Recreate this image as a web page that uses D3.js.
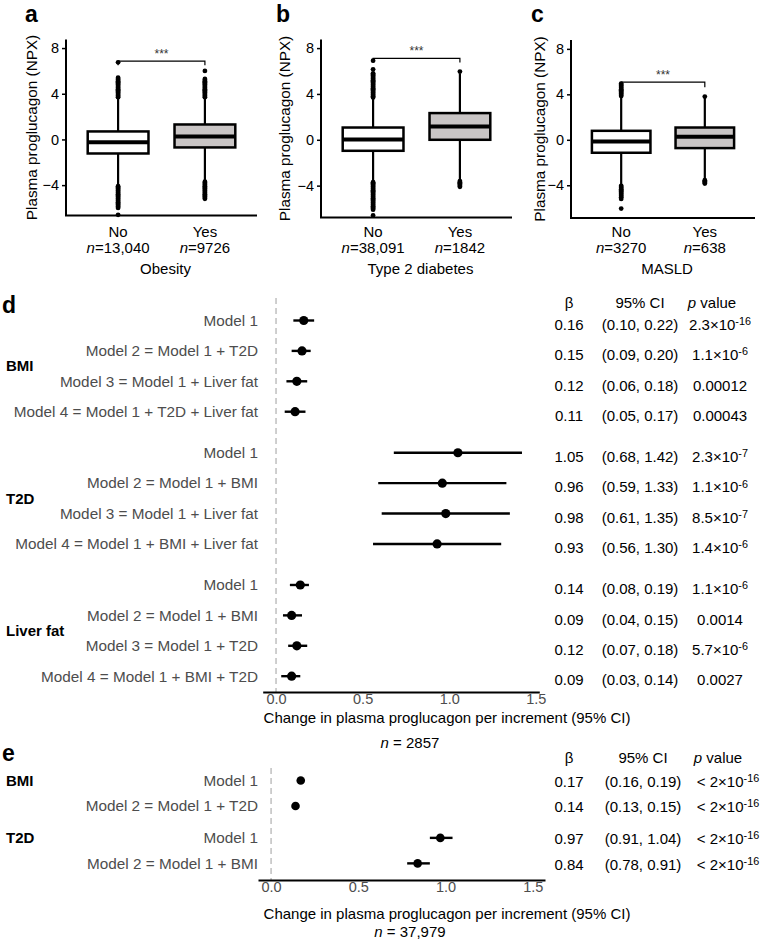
<!DOCTYPE html>
<html><head><meta charset="utf-8">
<script src="https://cdn.jsdelivr.net/npm/d3@7"></script>
<style>body{margin:0;background:#fff} svg{display:block} text{font-family:"Liberation Sans",Arial,sans-serif}</style>
</head><body><svg id="c" width="762" height="940"></svg>
<script>
// ---------------- DATA ----------------
const groups = ["No", "Yes"];
const boxPanelLabels = ["a", "b", "c"];
const boxTitles = ["Obesity", "Type 2 diabetes", "MASLD"];
const boxCounts = [["13,040", "9726"], ["38,091", "1842"], ["3270", "638"]];
const boxYTicks = [-4, 0, 4, 8];
// [q1, median, q3, lower whisker, upper whisker]
const obesityStats = [[-1.23, -0.24, 0.70, -4.0, 3.65], [-0.70, 0.26, 1.31, -3.6, 3.6]];
const t2dStats = [[-0.96, 0.03, 1.07, -3.66, 3.66], [0.0, 1.16, 2.33, -3.5, 5.8]];
const masldStats = [[-1.14, -0.15, 0.79, -3.96, 3.8], [-0.73, 0.26, 1.08, -3.5, 3.75]];
const obesityOutliers = [
  [3.7,3.8,3.9,4.0,4.1,4.2,4.3,4.4,4.5,4.6,4.7,4.8,4.9,5.0,5.1,5.2,5.3,5.4,6.75,
   -4.1,-4.2,-4.3,-4.4,-4.5,-4.6,-4.7,-4.8,-4.9,-5.0,-5.1,-5.2,-5.3,-5.4,-5.5,-5.6,-5.7,-5.8,-5.9,-6.0,-6.6],
  [3.7,3.8,3.9,4.0,4.1,4.2,4.3,4.4,4.5,4.6,4.7,4.8,4.9,5.0,5.1,5.2,5.3,6.0,
   -3.7,-3.8,-3.9,-4.0,-4.1,-4.2,-4.3,-4.4,-4.5,-4.6,-4.7,-4.8,-4.9,-5.0,-5.1,-5.2]
];
const t2dOutliers = [
  [3.7,3.8,3.9,4.0,4.1,4.2,4.3,4.4,4.5,4.6,4.7,4.8,4.9,5.0,5.1,5.2,5.3,5.4,5.5,5.6,5.7,5.8,6.15,6.9,
   -3.7,-3.8,-3.9,-4.0,-4.1,-4.2,-4.3,-4.4,-4.5,-4.6,-4.7,-4.8,-4.9,-5.0,-5.1,-5.2,-5.3,-5.4,-5.5,-5.6,-5.7,-5.8,-5.9,-6.0,-6.1,-6.6],
  [5.95, -3.6,-3.7,-3.8,-3.9,-4.0,-4.1]
];
const masldOutliers = [
  [3.85,3.95,4.05,4.15,4.25,4.35,4.45,4.55,4.65,4.75,4.85,4.95,
   -4.05,-4.15,-4.25,-4.35,-4.45,-4.55,-4.65,-4.75,-4.85,-4.95,-5.05,-5.2,-6.05],
  [3.8, -3.55,-3.65,-3.75,-3.85]
];
// significance bracket: [height, tip length]
const sigBrackets = [[6.85, 0.35], [7.1, 0.35], [5.07, 0.45]];
const sigLabel = "***";

const forestTicks = [0, 0.5, 1.0, 1.5];
const tableHeaders = ["β", "95% CI", "p value"];

const dGroups = ["BMI", "T2D", "Liver fat"];
const dModels = [
  ["Model 1", "Model 2 = Model 1 + T2D", "Model 3 = Model 1 + Liver fat", "Model 4 = Model 1 + T2D + Liver fat"],
  ["Model 1", "Model 2 = Model 1 + BMI", "Model 3 = Model 1 + Liver fat", "Model 4 = Model 1 + BMI + Liver fat"],
  ["Model 1", "Model 2 = Model 1 + BMI", "Model 3 = Model 1 + T2D", "Model 4 = Model 1 + BMI + T2D"]
];
const dBeta = [[0.16, 0.15, 0.12, 0.11], [1.05, 0.96, 0.98, 0.93], [0.14, 0.09, 0.12, 0.09]];
const dLow  = [[0.10, 0.09, 0.06, 0.05], [0.68, 0.59, 0.61, 0.56], [0.08, 0.04, 0.07, 0.03]];
const dHigh = [[0.22, 0.20, 0.18, 0.17], [1.42, 1.33, 1.35, 1.30], [0.19, 0.15, 0.18, 0.14]];
const dP = [["2.3e-16", "1.1e-6", "0.00012", "0.00043"], ["2.3e-7", "1.1e-6", "8.5e-7", "1.4e-6"], ["1.1e-6", "0.0014", "5.7e-6", "0.0027"]];
const dN = "2857";

const eGroups = ["BMI", "T2D"];
const eModels = [["Model 1", "Model 2 = Model 1 + T2D"], ["Model 1", "Model 2 = Model 1 + BMI"]];
const eBeta = [[0.17, 0.14], [0.97, 0.84]];
const eLow  = [[0.16, 0.13], [0.91, 0.78]];
const eHigh = [[0.19, 0.15], [1.04, 0.91]];
const eP = [["< 2e-16", "< 2e-16"], ["< 2e-16", "< 2e-16"]];
const eN = "37,979";

const xTitle = "Change in plasma proglucagon per increment (95% CI)";
const yTitle = "Plasma proglucagon (NPX)";

// ---------------- DRAWING ----------------
const svg = d3.select("#c");
const FONT = '"Liberation Sans", Arial, sans-serif';
const GREY = "#4d4d4d";

// ----- box plots -----
const boxStats = [obesityStats, t2dStats, masldStats];
const boxOut = [obesityOutliers, t2dOutliers, masldOutliers];
const boxLayout = [
  {x0: 66, x1: 257, y0: 215.5, y1: 39.5, dom: [-6.66, 8.75], lx: 25, tx: 32},
  {x0: 321, x1: 512, y0: 217.5, y1: 39.5, dom: [-6.78, 8.75], lx: 276, tx: 285},
  {x0: 571, x1: 755, y0: 218, y1: 40, dom: [-6.88, 8.78], lx: 531, tx: 540}
];

boxStats.forEach((stats, p) => {
  const L = boxLayout[p];
  const g = svg.append("g");
  const x = d3.scalePoint().domain(groups).range([L.x0, L.x1]).padding(0.6);
  const y = d3.scaleLinear().domain(L.dom).range([L.y0, L.y1]);
  const bw = x.step() * 0.7;

  g.append("text").attr("x", L.lx).attr("y", 22).attr("font-size", 23).attr("font-weight", "bold").text(boxPanelLabels[p]);

  const ya = g.append("g").attr("transform", `translate(${L.x0},0)`)
    .call(d3.axisLeft(y).tickValues(boxYTicks).tickSize(4).tickPadding(3).tickFormat(d => d < 0 ? "−" + Math.abs(d) : d));
  ya.select(".domain").attr("stroke-width", 2).attr("d", `M0,${L.y0}V${L.y1}`);
  ya.selectAll("line").attr("stroke-width", 1.5);
  ya.selectAll("text").attr("font-size", 14.5).attr("fill", "#000").attr("font-family", FONT);

  g.append("line").attr("x1", L.x0 - 1).attr("x2", L.x1).attr("y1", L.y0).attr("y2", L.y0).attr("stroke", "#000").attr("stroke-width", 2);

  g.append("text").attr("transform", `translate(${L.tx},${(L.y0 + L.y1) / 2}) rotate(-90)`)
    .attr("text-anchor", "middle").attr("dy", "0.35em").attr("font-size", 15.3).text(yTitle);

  stats.forEach((s, i) => {
    const cx = x(groups[i]);
    const [q1, med, q3, lo, hi] = s;
    g.append("line").attr("x1", cx).attr("x2", cx).attr("y1", y(q3)).attr("y2", y(hi)).attr("stroke", "#000").attr("stroke-width", 2.2);
    g.append("line").attr("x1", cx).attr("x2", cx).attr("y1", y(q1)).attr("y2", y(lo)).attr("stroke", "#000").attr("stroke-width", 2.2);
    g.append("rect").attr("x", cx - bw / 2).attr("width", bw).attr("y", y(q3)).attr("height", y(q1) - y(q3))
      .attr("fill", i === 0 ? "#ffffff" : "#c9c5c5").attr("stroke", "#000").attr("stroke-width", 2.5);
    g.append("line").attr("x1", cx - bw / 2).attr("x2", cx + bw / 2).attr("y1", y(med)).attr("y2", y(med)).attr("stroke", "#000").attr("stroke-width", 4);
    g.selectAll(null).data(boxOut[p][i]).join("circle").attr("cx", cx).attr("cy", d => y(d)).attr("r", 2.4).attr("fill", "#000");

    g.append("text").attr("x", cx).attr("y", 232).attr("dy", "0.35em").attr("text-anchor", "middle").attr("font-size", 15).text(groups[i]);
    const t = g.append("text").attr("x", cx).attr("y", 248).attr("dy", "0.35em").attr("text-anchor", "middle").attr("font-size", 15);
    t.append("tspan").attr("font-style", "italic").text("n");
    t.append("tspan").text("=" + boxCounts[p][i]);
  });
  g.append("text").attr("x", (L.x0 + L.x1) / 2 + 4).attr("y", 269).attr("dy", "0.35em").attr("text-anchor", "middle").attr("font-size", 15).text(boxTitles[p]);

  // significance bracket
  const [bh, tip] = sigBrackets[p];
  const xa = x(groups[0]), xb = x(groups[1]);
  g.append("path").attr("d", `M${xa},${y(bh - tip)}V${y(bh)}H${xb}V${y(bh - tip)}`)
    .attr("fill", "none").attr("stroke", "#000").attr("stroke-width", 1.2);
  g.append("text").attr("x", (xa + xb) / 2).attr("y", y(bh) - 3).attr("text-anchor", "middle").attr("font-size", 12).attr("fill", "#333").text(sigLabel);
});

// ----- forest helpers -----
function pText(sel, str) {
  let prefix = "";
  if (str.startsWith("< ")) { prefix = "< "; str = str.slice(2); }
  if (str.includes("e")) {
    const [m, e] = str.split("e");
    sel.append("tspan").text(prefix + m + "×10");
    sel.append("tspan").attr("dy", "-0.45em").attr("font-size", "0.72em").text(e);
  } else {
    sel.text(prefix + str);
  }
}
const f2 = d3.format(".2f");

function forest(cfg) {
  const g = svg.append("g");
  const x = d3.scaleLinear().domain(cfg.xdom).range(cfg.xrange);
  // row slot position (slot index includes gap between groups)
  const rows = [];
  cfg.models.forEach((ms, gi) => ms.forEach((m, mi) => rows.push({gi, mi, slot: gi * (ms.length + cfg.gap) + mi})));
  const maxSlot = d3.max(rows, r => r.slot);
  const y = d3.scaleLinear().domain([0, maxSlot]).range([cfg.yFirst, cfg.yFirst + maxSlot * cfg.step]);

  // zero line
  g.append("line").attr("x1", x(0)).attr("x2", x(0)).attr("y1", cfg.dashTop).attr("y2", cfg.axisY)
    .attr("stroke", "#c4c4c4").attr("stroke-width", 1.6).attr("stroke-dasharray", "6,4");

  // axis
  const ax = g.append("g").attr("transform", `translate(0,${cfg.axisY})`)
    .call(d3.axisBottom(x).tickValues(forestTicks).tickSize(0).tickPadding(cfg.tickPad).tickFormat(d3.format(".1f")));
  ax.select(".domain").attr("stroke-width", 2.2);
  ax.selectAll("text").attr("font-size", 14.5).attr("fill", GREY).attr("font-family", FONT);

  g.append("text").attr("x", cfg.titleX).attr("y", cfg.titleY).attr("dy", "0.35em").attr("text-anchor", "middle").attr("font-size", 15).text(xTitle);
  const nt = g.append("text").attr("x", cfg.nX).attr("y", cfg.nY).attr("dy", "0.35em").attr("text-anchor", "middle").attr("font-size", 15);
  nt.append("tspan").attr("font-style", "italic").text("n");
  nt.append("tspan").text(" = " + cfg.n);

  // panel label
  g.append("text").attr("x", 2).attr("y", cfg.labelY).attr("font-size", 23).attr("font-weight", "bold").text(cfg.label);

  // group labels
  cfg.groups.forEach((gn, gi) => {
    const gr = rows.filter(r => r.gi === gi);
    const yy = cfg.groupAtFirst ? y(gr[0].slot) : (y(gr[0].slot) + y(gr[gr.length - 1].slot)) / 2;
    g.append("text").attr("x", 6).attr("y", yy).attr("dy", "0.35em").attr("font-size", 15).attr("font-weight", "bold").text(gn);
  });

  // headers
  const hY = cfg.headerY;
  g.append("text").attr("x", cfg.colX[0]).attr("y", hY).attr("dy", "0.35em").attr("text-anchor", "middle").attr("font-size", 15).text(tableHeaders[0]);
  g.append("text").attr("x", cfg.colX[1]).attr("y", hY).attr("dy", "0.35em").attr("text-anchor", "middle").attr("font-size", 15).text(tableHeaders[1]);
  const ph = g.append("text").attr("x", cfg.pHeadX).attr("y", hY).attr("dy", "0.35em").attr("text-anchor", "middle").attr("font-size", 15);
  ph.append("tspan").attr("font-style", "italic").text("p");
  ph.append("tspan").text(" value");

  rows.forEach(r => {
    const yy = y(r.slot);
    const b = cfg.beta[r.gi][r.mi], lo = cfg.low[r.gi][r.mi], hi = cfg.high[r.gi][r.mi];
    g.append("text").attr("x", cfg.labelX).attr("y", yy).attr("dy", "0.35em").attr("text-anchor", "end")
      .attr("font-size", 15.3).attr("fill", GREY).text(cfg.models[r.gi][r.mi]);
    g.append("line").attr("x1", x(lo)).attr("x2", x(hi)).attr("y1", yy).attr("y2", yy).attr("stroke", "#000").attr("stroke-width", 2.4);
    g.append("circle").attr("cx", x(b)).attr("cy", yy).attr("r", cfg.r).attr("fill", "#000");
    const ty = yy + cfg.tableOff;
    g.append("text").attr("x", cfg.colX[0]).attr("y", ty).attr("dy", "0.35em").attr("text-anchor", "middle").attr("font-size", 15).text(f2(b));
    g.append("text").attr("x", cfg.colX[1]).attr("y", ty).attr("dy", "0.35em").attr("text-anchor", "middle").attr("font-size", 15).text(`(${f2(lo)}, ${f2(hi)})`);
    const pt = g.append("text").attr("x", cfg.colX[2]).attr("y", ty).attr("dy", "0.35em").attr("text-anchor", "middle").attr("font-size", 15);
    pText(pt, cfg.p[r.gi][r.mi]);
  });
}

forest({
  label: "d", labelY: 313, groups: dGroups, models: dModels, beta: dBeta, low: dLow, high: dHigh, p: dP, n: dN,
  xdom: [-0.077, 1.52], xrange: [262.7, 539.3], gap: 0.35, yFirst: 320.5, step: 30.4,
  dashTop: 298, axisY: 692, tickPad: 2, titleX: 447, titleY: 718, nX: 410, nY: 743,
  groupAtFirst: false, headerY: 303, colX: [569, 640, 720], pHeadX: 712, labelX: 258, r: 4.6, tableOff: 4
});

forest({
  label: "e", labelY: 761, groups: eGroups, models: eModels, beta: eBeta, low: eLow, high: eHigh, p: eP, n: eN,
  xdom: [-0.075, 1.57], xrange: [258, 545], gap: 0.25, yFirst: 780.5, step: 25.5,
  dashTop: 768, axisY: 880, tickPad: 2, titleX: 447, titleY: 914, nX: 410, nY: 932,
  groupAtFirst: true, headerY: 758, colX: [569, 643, 728], pHeadX: 718, labelX: 258, r: 4.3, tableOff: 1
});
</script></body></html>
